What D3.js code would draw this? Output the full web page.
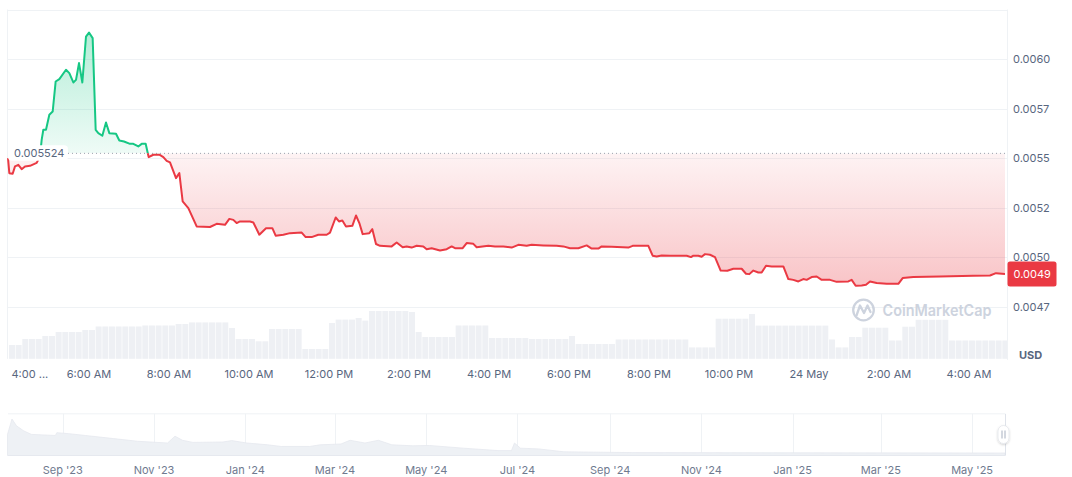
<!DOCTYPE html>
<html><head><meta charset="utf-8">
<script src="https://cdn.jsdelivr.net/npm/d3@7"></script>
<style>
body{margin:0;background:#fff}
svg{display:block;font-family:Inter,"Noto Sans",sans-serif}
</style>
</head><body>
<svg id="c" width="1072" height="477"></svg>
<script>
// ---------- DATA ----------
const startTime = "2025-05-23T04:00:00";
const priceMinutes = [-1.5,0.5,5.5,9,14,19,24,31.5,41.5,46.5,
49,51.5,55.5,60.5,65.5,70,75.5,85.5,90.5,96.5,
100.5,105,110,115.5,120,125.5,130,134,140,145.5,
150.5,160.5,165.5,172.5,181.5,186.5,194,199,205,209.5,
216.5,225.5,231.5,236.5,241.5,250.5,255.5,260.5,269,281.5,
301.5,311.5,324,330.5,336.5,341.5,346.5,361.5,366.5,375.5,
385.5,395,400,411.5,421.5,439,445,454,464,476.5,
481.5,490,495,500,505.5,515,520.5,525.5,530.5,540.5,
545,550.5,556.5,574,581.5,590.5,596.5,604,611.5,621.5,
626.5,634,646.5,656.5,664,669,680.5,686.5,696.5,701.5,
719,729,741.5,754,764,776.5,784,801.5,821.5,831.5,
841.5,854,866.5,874,884,889,904,929,935.5,959,
965.5,971.5,979,991.5,1016.5,1023,1026.5,1034,1039,1044,
1051.5,1059,1067.5,1077.5,1086.5,1099,1105.5,1110.5,1116.5,1124,
1129,1135.5,1144,1161.5,1169,1176.5,1184,1191.5,1196.5,1204,
1211.5,1219,1231.5,1241.5,1259,1264,1270,1279,1285.5,1291.5,
1301.5,1316.5,1334,1340.5,1356.5,1396.5,1446.5,1471.5,1480.5,1494];
const priceValues = [0.0055,0.005424,0.005421,0.005458,0.005466,0.005444,0.005458,0.005461,0.005476,0.005508,
0.005592,0.005643,0.005643,0.005719,0.005735,0.005887,0.005899,0.005946,0.005929,0.005882,
0.005895,0.00598,0.005882,0.006114,0.006134,0.006106,0.005643,0.005626,0.005613,0.00568,
0.005626,0.005623,0.005589,0.005584,0.005572,0.005572,0.005559,0.005572,0.005572,0.005505,
0.005517,0.005517,0.005505,0.005486,0.005478,0.005399,0.005424,0.005281,0.005247,0.005155,
0.005152,0.005168,0.005163,0.005193,0.005188,0.005172,0.00518,0.00518,0.005175,0.005113,
0.005146,0.005146,0.005108,0.005113,0.005121,0.005124,0.005101,0.005101,0.005113,0.005113,
0.005124,0.0052,0.00518,0.005185,0.005155,0.005158,0.00521,0.005172,0.005116,0.005121,
0.005141,0.005066,0.005057,0.005054,0.005074,0.00505,0.005054,0.005048,0.005057,0.005054,
0.00504,0.005045,0.005033,0.00504,0.005054,0.005045,0.005045,0.005071,0.005067,0.00505,
0.005057,0.005054,0.005054,0.005048,0.005062,0.005057,0.005062,0.005059,0.005057,0.005054,
0.005045,0.005045,0.005059,0.005043,0.005043,0.005054,0.005052,0.005048,0.005057,0.005057,
0.005007,0.005003,0.005008,0.005007,0.005007,0.005,0.005007,0.005007,0.005002,0.005015,
0.005012,0.005,0.004932,0.004931,0.004941,0.004941,0.004916,0.004914,0.004932,0.004922,
0.004922,0.004956,0.004953,0.004953,0.004889,0.004885,0.004877,0.004889,0.004885,0.004899,
0.004902,0.004885,0.004885,0.004875,0.004877,0.004885,0.004855,0.004857,0.00486,0.004877,
0.004869,0.004865,0.004865,0.004894,0.004899,0.004902,0.004906,0.004907,0.004919,0.004915];
const baselinePrice = 0.005524;
const baselineLabel = "0.005524";
const lastPriceLabel = "0.0049";
const yTickValues = [0.006, 0.00575, 0.0055, 0.00525, 0.005, 0.00475];
const yTickLabels = ["0.0060","0.0057","0.0055","0.0052","0.0050","0.0047"];
const xTickHours = [0,2,4,6,8,10,12,14,16,18,20,22,24];
const xTickLabels = ["4:00 ...","6:00 AM","8:00 AM","10:00 AM","12:00 PM","2:00 PM","4:00 PM","6:00 PM","8:00 PM","10:00 PM","24 May","2:00 AM","4:00 AM"];
const volumeBucketMinutes = 10;
const volumes = [15,15,21,21,21,24,24,28,28,28,
28,30,30,33.5,33.5,33.5,33.5,33.5,33.5,33.5,
34.5,34.5,34.5,34.5,34.5,36,36,37.6,37.6,37.6,
37.6,37.6,37.6,32,21,21,21,18.7,18.7,31,
31,31,31,31,11,11,11,11,37,40.4,
40.4,40.4,42,39.4,49,49,49,49,49,49,
48,28,23,23,23,23,23,34.5,34.5,34.5,
34.5,34.5,22,22,22,22,22,22,21,21,
21,21,21,21,24,16,16,16,16,16,
16,20.5,20.5,20.5,20.5,20.5,20.5,20.5,20.5,20.5,
20.5,20.5,12.6,12.6,12.6,12.6,41.3,41.3,41.3,41.3,
41.3,46,34.4,34.4,34.4,34.4,34.4,34.4,34.4,34.4,
34.4,34.4,34.4,20.5,12.6,12.6,23,23,32.3,32.3,
32.3,32.3,19.5,19.5,33.3,33.3,40.2,40.2,40.2,40.2,
40.2,19.5,19.5,19.5,19.5,19.5,19.5,19.5,19.5,19.5];
const navDates = ["2023-07-26","2023-07-29","2023-08-01","2023-08-06","2023-08-11","2023-08-27","2023-08-28","2023-09-05","2023-09-16","2023-10-05",
"2023-10-21","2023-11-10","2023-11-15","2023-11-20","2023-11-27","2023-12-17","2023-12-23","2024-01-02","2024-01-16","2024-01-25",
"2024-02-13","2024-02-20","2024-03-05","2024-03-11","2024-03-21","2024-03-30","2024-04-08","2024-04-22","2024-05-03","2024-05-26",
"2024-06-18","2024-06-27","2024-06-29","2024-07-03","2024-07-15","2024-08-01","2024-08-24","2024-09-16","2025-01-06","2025-05-23"];
const navValues = [0.0515,0.09,0.073,0.06,0.0515,0.0488,0.0558,0.0533,0.0488,0.041,
0.0343,0.03,0.047,0.0368,0.0315,0.0325,0.036,0.03,0.0255,0.0213,
0.0213,0.0255,0.0275,0.0368,0.03,0.0368,0.0255,0.023,0.0238,0.017,
0.011,0.011,0.03,0.017,0.0153,0.008,0.007,0.006,0.0055,0.0049];
const navTickDates = ["2023-09-01","2023-11-01","2024-01-01","2024-03-01","2024-05-01","2024-07-01","2024-09-01","2024-11-01","2025-01-01","2025-03-01","2025-05-01"];
const navTickLabels = ["Sep '23","Nov '23","Jan '24","Mar '24","May '24","Jul '24","Sep '24","Nov '24","Jan '25","Mar '25","May '25"];

// ---------- LAYOUT ----------
const svg = d3.select("#c");
const GREEN = "#16c784", RED = "#ea3943", TXT = "#58667e", GRID = "#eff2f5";
const plotL = 8, plotR = 1007.5, plotT = 9.5, dataR = 1005;
const t0 = new Date(startTime);
const MIN = 60000;
const x = d3.scaleTime().domain([t0, new Date(+t0 + 25*60*MIN)]).range([9, 1009]);
const y = d3.scaleLinear().domain([0.00475, 0.00625]).range([306.6, 9.6]);
const yVol = d3.scaleLinear().domain([0, 52]).range([360, 308]);
const volBottom = 358.8;
const yb = y(baselinePrice);

const pts = priceMinutes.map((m,i)=>({t:new Date(+t0 + m*MIN), v:priceValues[i]}));

const defs = svg.append("defs");
const gG = defs.append("linearGradient").attr("id","gG").attr("gradientUnits","userSpaceOnUse")
  .attr("x1",0).attr("x2",0).attr("y1",y(0.00613)).attr("y2",yb);
gG.append("stop").attr("offset",0).attr("stop-color",GREEN).attr("stop-opacity",0.32);
gG.append("stop").attr("offset",1).attr("stop-color",GREEN).attr("stop-opacity",0.07);
const gR = defs.append("linearGradient").attr("id","gR").attr("gradientUnits","userSpaceOnUse")
  .attr("x1",0).attr("x2",0).attr("y1",yb).attr("y2",y(0.00485));
gR.append("stop").attr("offset",0).attr("stop-color",RED).attr("stop-opacity",0.06);
gR.append("stop").attr("offset",1).attr("stop-color",RED).attr("stop-opacity",0.3);
defs.append("clipPath").attr("id","above").append("rect").attr("x",0).attr("y",0).attr("width",dataR).attr("height",yb);
defs.append("clipPath").attr("id","below").append("rect").attr("x",0).attr("y",yb).attr("width",dataR).attr("height",400-yb);
defs.append("clipPath").attr("id","volClip").append("rect").attr("x",plotL).attr("y",0).attr("width",plotR-plotL-0.5).attr("height",400);
const sh = defs.append("filter").attr("id","sh").attr("x","-50%").attr("y","-50%").attr("width","200%").attr("height","200%");
sh.append("feDropShadow").attr("dx",0).attr("dy",1).attr("stdDeviation",1.2).attr("flood-color","#000").attr("flood-opacity",0.18);

// gridlines
const gridVals = [0.00625].concat(yTickValues);
svg.append("g").selectAll("line").data(gridVals).join("line")
  .attr("x1",plotL).attr("x2",plotR).attr("y1",d=>Math.round(y(d))+0.5).attr("y2",d=>Math.round(y(d))+0.5)
  .attr("stroke",GRID).attr("stroke-width",1);
svg.append("line").attr("x1",plotL-0.5).attr("x2",plotL-0.5).attr("y1",plotT).attr("y2",volBottom).attr("stroke",GRID);
svg.append("line").attr("x1",plotR).attr("x2",plotR).attr("y1",plotT).attr("y2",volBottom+1).attr("stroke",GRID);

// volume bars
const bw = x(new Date(+t0 + volumeBucketMinutes*MIN)) - x(t0);
svg.append("g").attr("clip-path","url(#volClip)").selectAll("rect").data(volumes).join("rect")
  .attr("x",(d,i)=>x(new Date(+t0 + i*volumeBucketMinutes*MIN)))
  .attr("width",bw-0.7)
  .attr("y",d=>yVol(d)).attr("height",d=>volBottom-yVol(d))
  .attr("fill","#eef0f4");

// watermark
const wm = svg.append("g").attr("fill","none").attr("stroke","#cdd3de");
wm.append("circle").attr("cx",863.5).attr("cy",310).attr("r",10.3).attr("stroke-width",2.3);
wm.append("path").attr("d","M856.5,315.5 L860,305.5 L864,313 L867.5,305.5 L870.5,312").attr("stroke-width",2.3).attr("stroke-linejoin","round").attr("stroke-linecap","round");
svg.append("text").attr("x",882.5).attr("y",316).attr("font-size",16).attr("font-weight",600)
  .attr("textLength",109).attr("lengthAdjust","spacingAndGlyphs")
  .attr("fill","#cdd3de").text("CoinMarketCap");

// areas
const area = d3.area().x(d=>x(d.t)).y0(yb).y1(d=>y(d.v));
svg.append("path").datum(pts).attr("d",area).attr("fill","url(#gG)").attr("clip-path","url(#above)");
svg.append("path").datum(pts).attr("d",area).attr("fill","url(#gR)").attr("clip-path","url(#below)");

// baseline dotted
svg.append("line").attr("x1",plotL).attr("x2",dataR).attr("y1",yb).attr("y2",yb)
  .attr("stroke","#9aa1ad").attr("stroke-width",1).attr("stroke-dasharray","1,3");

// lines
const line = d3.line().x(d=>x(d.t)).y(d=>y(d.v));
svg.append("path").datum(pts).attr("d",line).attr("fill","none").attr("stroke",GREEN).attr("stroke-width",2).attr("stroke-linejoin","round").attr("clip-path","url(#above)");
svg.append("path").datum(pts).attr("d",line).attr("fill","none").attr("stroke",RED).attr("stroke-width",2).attr("stroke-linejoin","round").attr("clip-path","url(#below)");

// baseline label
svg.append("rect").attr("x",plotL).attr("y",yb-8).attr("width",60).attr("height",15.5).attr("rx",4).attr("fill","#fff");
svg.append("text").attr("x",14).attr("y",yb+4).attr("font-size",11).attr("fill",TXT).text(baselineLabel);

// y axis labels
svg.append("g").selectAll("text").data(yTickValues).join("text")
  .attr("x",1013).attr("y",d=>y(d)+4).attr("font-size",11).attr("fill",TXT)
  .text((d,i)=>yTickLabels[i]);

// last price tag
const lastV = priceValues[priceValues.length-1];
svg.append("rect").attr("x",1007.5).attr("y",y(lastV)-12.5).attr("width",49).attr("height",25).attr("rx",2.5).attr("fill",RED);
svg.append("text").attr("x",1013.5).attr("y",y(lastV)+4).attr("font-size",11).attr("fill","#fff").text(lastPriceLabel);

// USD
svg.append("text").attr("x",1019).attr("y",359).attr("font-size",11).attr("font-weight",700).attr("fill",TXT).text("USD");

// x axis labels
svg.append("g").selectAll("text").data(xTickHours).join("text")
  .attr("x",(d,i)=> i===0 ? 11.5 : x(new Date(+t0 + d*60*MIN)))
  .attr("text-anchor",(d,i)=> i===0 ? "start" : "middle")
  .attr("y",377.5).attr("font-size",11).attr("fill",TXT)
  .text((d,i)=>xTickLabels[i]);

// ---------- NAVIGATOR ----------
const parse = d3.utcParse("%Y-%m-%d");
const xn = d3.scaleUtc().domain([parse("2023-07-26"), parse("2025-05-23")]).range([7.5, 1005]);
const yn = d3.scaleLinear().domain([0, 0.1]).range([455, 415]);
const navTop = 413.8, navBot = 455.5;
svg.append("line").attr("x1",plotL).attr("x2",dataR).attr("y1",navTop).attr("y2",navTop).attr("stroke",GRID);
svg.append("g").selectAll("line").data(navTickDates).join("line")
  .attr("x1",d=>Math.round(xn(parse(d)))+0.5).attr("x2",d=>Math.round(xn(parse(d)))+0.5)
  .attr("y1",navTop).attr("y2",navBot).attr("stroke",GRID);
const navPts = navDates.map((d,i)=>({t:parse(d), v:navValues[i]}));
svg.append("path").datum(navPts)
  .attr("d", d3.area().x(d=>xn(d.t)).y0(navBot).y1(d=>yn(d.v)))
  .attr("fill","#eef1f5").attr("stroke","#e6e9ef").attr("stroke-width",0.8);
svg.append("line").attr("x1",plotL).attr("x2",dataR).attr("y1",navBot).attr("y2",navBot).attr("stroke","#e6e9ef");
svg.append("line").attr("x1",dataR+0.5).attr("x2",dataR+0.5).attr("y1",navTop).attr("y2",navBot).attr("stroke","#dfe3ea");
svg.append("g").selectAll("text").data(navTickDates).join("text")
  .attr("x",d=>xn(parse(d))).attr("y",473.5).attr("text-anchor","middle")
  .attr("font-size",11).attr("fill","#6f7a8f")
  .text((d,i)=>navTickLabels[i]);
// handle
const hx = dataR - 1.5, hy = 434.5;
svg.append("rect").attr("x",hx-5.5).attr("y",hy-9).attr("width",11).attr("height",18).attr("rx",5.5)
  .attr("fill","#fff").attr("stroke","#e3e6eb").attr("stroke-width",0.8).attr("filter","url(#sh)");
svg.append("line").attr("x1",hx-1.5).attr("x2",hx-1.5).attr("y1",hy-4).attr("y2",hy+4).attr("stroke","#a7b0c0");
svg.append("line").attr("x1",hx+1.5).attr("x2",hx+1.5).attr("y1",hy-4).attr("y2",hy+4).attr("stroke","#a7b0c0");
</script>
</body></html>
